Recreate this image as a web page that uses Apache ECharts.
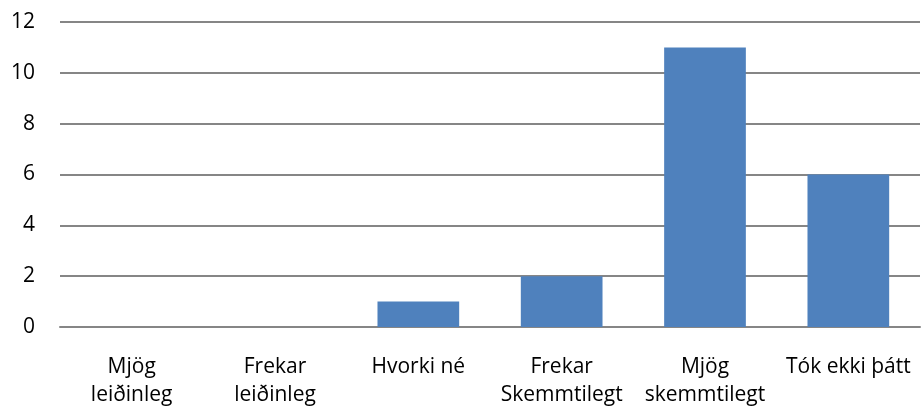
<!DOCTYPE html>
<html>
<head>
<meta charset="utf-8">
<script src="https://cdn.jsdelivr.net/npm/echarts@6/dist/echarts.min.js"></script>
<style>
  html, body { margin: 0; padding: 0; background: #fff; }
  #chart { width: 923px; height: 409px; }
</style>
</head>
<body>
<div id="chart"></div>
<script>
const categories = ['Mjög\nleiðinleg', 'Frekar\nleiðinleg', 'Hvorki né', 'Frekar\nSkemmtilegt', 'Mjög\nskemmtilegt', 'Tók ekki þátt'];
const values = [0, 0, 1, 2, 11, 6];

const myChart = echarts.init(document.getElementById('chart'));

const option = {
  animation: false,
  textStyle: { fontFamily: 'Open Sans' },
  grid: {
    left: 60,
    right: 3,
    top: 22,
    bottom: 81
  },
  xAxis: {
    type: 'category',
    data: categories,
    axisLine: { show: true, lineStyle: { color: '#868686', width: 2 } },
    axisTick: { show: false },
    axisLabel: {
      interval: 0,
      color: '#000',
      fontSize: 21,
      lineHeight: 28,
      margin: 26
    }
  },
  yAxis: {
    type: 'value',
    min: 0,
    max: 12,
    interval: 2,
    axisLine: { show: false },
    axisTick: { show: false },
    axisLabel: { color: '#000', fontSize: 21, margin: 25 },
    splitLine: { lineStyle: { color: '#868686', width: 2 } }
  },
  series: [
    {
      type: 'bar',
      data: values,
      barWidth: '57%',
      itemStyle: { color: '#4f81bd' }
    }
  ]
};
option && myChart.setOption(option);
</script>
</body>
</html>
